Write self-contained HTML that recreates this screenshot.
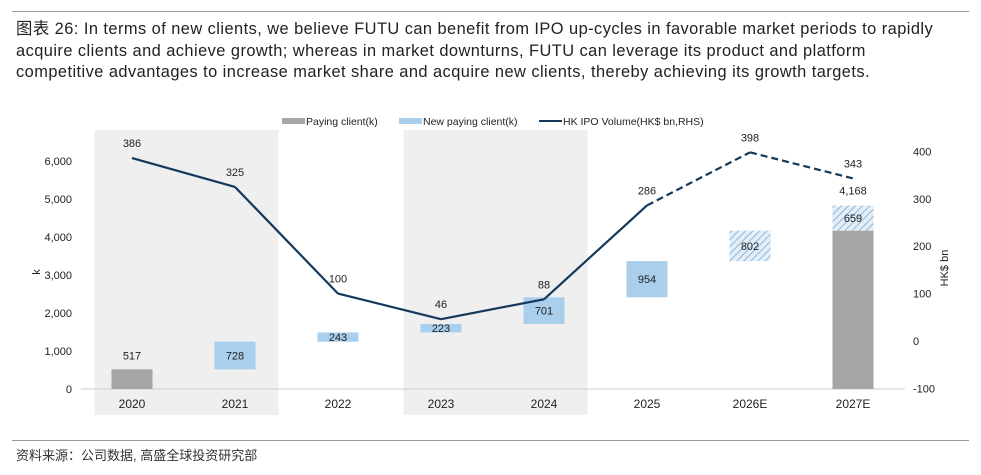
<!DOCTYPE html>
<html><head><meta charset="utf-8"><style>
body{margin:0;background:#fff;width:981px;height:475px;overflow:hidden;font-family:"Liberation Sans","Noto Sans CJK SC",sans-serif}
.t{position:absolute;left:16px;top:19px;font-size:16.4px;line-height:21.5px;color:#222;white-space:nowrap;letter-spacing:0.45px}
</style></head><body>
<div style="position:absolute;left:12px;top:11px;width:957px;height:1px;background:#999"></div>
<div class="t">图表 26: In terms of new clients, we believe FUTU can benefit from IPO up-cycles in favorable market periods to rapidly<br>acquire clients and achieve growth; whereas in market downturns, FUTU can leverage its product and platform<br>competitive advantages to increase market share and acquire new clients, thereby achieving its growth targets.</div>
<svg id="c" width="981" height="475" style="position:absolute;left:0;top:0">
<defs><pattern id="h" width="5" height="5" patternUnits="userSpaceOnUse" patternTransform="rotate(45)"><rect width="5" height="5" fill="#e4eef7"/><line x1="0" y1="0" x2="0" y2="5" stroke="#8fb6d8" stroke-width="2"/></pattern></defs>
</svg>
<div style="position:absolute;left:12px;top:440px;width:957px;height:1px;background:#999"></div>
<div style="position:absolute;left:16px;top:445px;font-size:13px;color:#333">资料来源：公司数据, 高盛全球投资研究部</div>
<script>
const categories=["2020","2021","2022","2023","2024","2025","2026E","2027E"];
const payingClients=[517,0,0,0,0,0,0,4168];
const newClients=[0,728,243,223,701,954,802,659];
const newEstimated=[false,false,false,false,false,false,true,true];
const ipoVolume=[386,325,100,46,88,286,398,343];
const ipoEstimated=[false,false,false,false,false,false,true,true];
const leftTicks=[0,1000,2000,3000,4000,5000,6000];
const rightTicks=[-100,0,100,200,300,400];
const shaded=[[0,1],[3,4]];
const svg=document.getElementById('c');const NS='http://www.w3.org/2000/svg';
function mk(t,a,p){const e=document.createElementNS(NS,t);for(const k in a)e.setAttribute(k,a[k]);(p||svg).appendChild(e);return e;}
const x0=132,dx=103;const xs=i=>x0+i*dx;
const yL=v=>389-v*0.038;const yR=v=>341-v*0.474;
const fmt=v=>v.toLocaleString('en-US');
shaded.forEach(s=>{const r=mk('rect',{x:xs(s[0])-dx/2+14,y:130,width:(s[1]-s[0]+1)*dx-22,height:285,fill:'#efefef'});

});
const ax=mk('line',{x1:81,x2:905,y1:389,y2:389,stroke:'#ccc'});


function txt(x,y,s,a,sz,anchor){const t=mk('text',Object.assign({x:x,y:y,'font-size':sz||11,'text-anchor':anchor||'middle',fill:'#222'},a||{}));t.textContent=s;return t;}
leftTicks.forEach(v=>{const t=txt(72,yL(v)+4,fmt(v),{},11,'end');

});
rightTicks.forEach(v=>{const t=txt(913,yR(v)+4,String(v),{},11,'start');

});
const kl=txt(40,272,'k',{transform:'rotate(-90 40 272)'},11);


const rl=txt(948,268,'HK$ bn',{transform:'rotate(-90 948 268)'},11);


let cum=0;
categories.forEach((c,i)=>{
 const cl=txt(xs(i),408,c,{},12);
 
 
 if(payingClients[i]>0){cum=payingClients[i];
  const b=mk('rect',{x:xs(i)-20.5,y:yL(cum),width:41,height:yL(0)-yL(cum),fill:'#a6a6a6'});
  
  
  if(newClients[i]>0){const l=txt(xs(i),yL(cum+newClients[i])-11,fmt(cum),{},11);
  }
  else{const l=txt(xs(i),yL(cum)-10,fmt(cum),{},11);
  }}
 if(newClients[i]>0){const lo=cum,hi=cum+newClients[i];
  const b=mk('rect',{x:xs(i)-20.5,y:yL(hi),width:41,height:yL(lo)-yL(hi),fill:newEstimated[i]?'url(#h)':'#a9cfec'});
  
  
  const l=txt(xs(i),(yL(hi)+yL(lo))/2+4,fmt(newClients[i]),{},11);
  
  
  cum=hi;}
});
for(let i=0;i<ipoVolume.length-1;i++){
 const s=mk('line',{x1:xs(i),y1:yR(ipoVolume[i]),x2:xs(i+1),y2:yR(ipoVolume[i+1]),stroke:'#14395b','stroke-width':2.2});
 if(ipoEstimated[i+1])s.setAttribute('stroke-dasharray','7 4');
 
 }
ipoVolume.forEach((v,i)=>{const l=txt(xs(i),yR(v)-11,String(v),{},11);

});
const lg=[[282,'Paying client(k)','#a6a6a6'],[399,'New paying client(k)','#a9cfec'],[539,'HK IPO Volume(HK$ bn,RHS)','line']];
lg.forEach(e=>{let s;if(e[2]=='line')s=mk('line',{x1:e[0],x2:e[0]+23,y1:121,y2:121,stroke:'#14395b','stroke-width':2});
 else s=mk('rect',{x:e[0],y:118,width:23,height:6,fill:e[2]});
 
 
 const t=txt(e[0]+24,125,e[1],{},10.5,'start');
 
 });
</script>
</body></html>
